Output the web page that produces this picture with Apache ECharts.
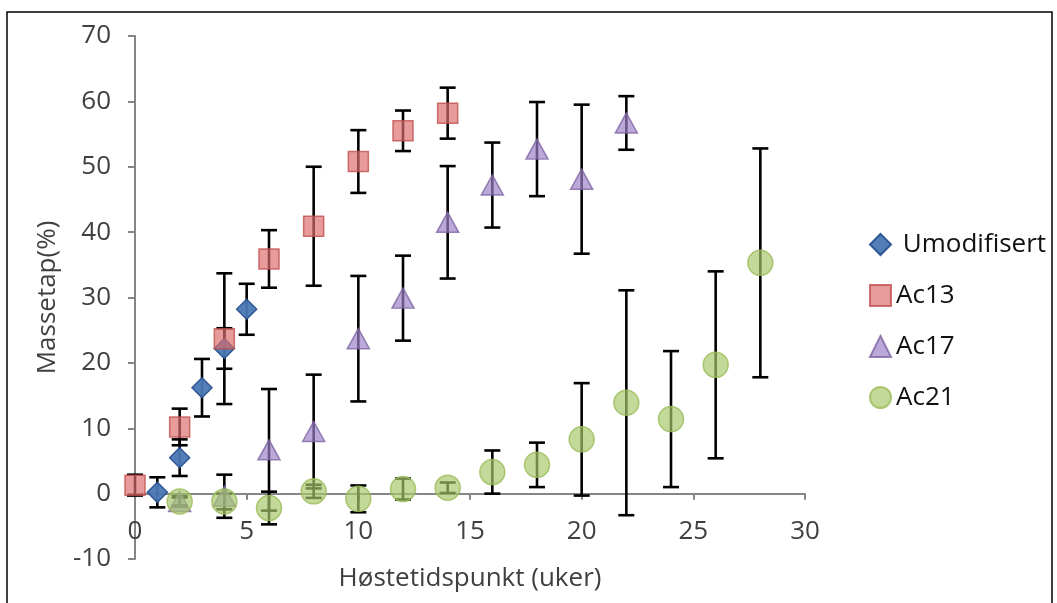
<!DOCTYPE html>
<html lang="no">
<head>
<meta charset="UTF-8">
<title>Massetap</title>
<style>
  html, body { margin: 0; padding: 0; background: #fff; }
  #chart { width: 1057px; height: 603px; }
</style>
</head>
<body>
<div id="chart"></div>
<script src="https://cdn.jsdelivr.net/npm/echarts@6/dist/echarts.min.js"></script>
<script>
// uker (x), massetap i % (y) og standardavvik (feil)
var umodWeeks = [1, 2, 3, 4, 5];
var umodVals  = [0.2, 5.5, 16.2, 22.2, 28.2];
var umodErr   = [2.3, 2.8, 4.4, 3.1, 3.9];

var ac13Weeks = [0, 2, 4, 6, 8, 10, 12, 14];
var ac13Vals  = [1.3, 10.2, 23.7, 35.9, 40.9, 50.8, 55.5, 58.2];
var ac13Err   = [1.6, 2.8, 10.0, 4.4, 9.1, 4.8, 3.1, 3.9];

var ac17Weeks = [2, 4, 6, 8, 10, 12, 14, 16, 18, 20, 22];
var ac17Vals  = [-1.2, -0.4, 6.7, 9.5, 23.7, 29.9, 41.5, 47.2, 52.7, 48.1, 56.7];
var ac17Err   = [0.6, 3.3, 9.3, 8.7, 9.6, 6.5, 8.6, 6.5, 7.2, 11.4, 4.1];

var ac21Weeks = [2, 4, 6, 8, 10, 12, 14, 16, 18, 20, 22, 24, 26, 28];
var ac21Vals  = [-1.2, -1.2, -2.2, 0.35, -0.8, 0.7, 0.9, 3.3, 4.4, 8.3, 13.9, 11.4, 19.7, 35.3];
var ac21Err   = [0.8, 1.2, 2.5, 1.0, 2.05, 1.6, 0.8, 3.3, 3.4, 8.6, 17.2, 10.4, 14.3, 17.5];

var FONT = 'Open Sans';
var FS = 26;
var TXT = '#404040';
var AXIS = '#868686';

function pts(xs, ys) {
  var res = [];
  for (var i = 0; i < xs.length; i++) res.push([xs[i], ys[i]]);
  return res;
}
function errPts(xs, ys, es) {
  var res = [];
  for (var i = 0; i < xs.length; i++) res.push([xs[i], ys[i] - es[i], ys[i] + es[i]]);
  return res;
}

function renderErr(params, api) {
  var lo = api.coord([api.value(0), api.value(1)]);
  var hi = api.coord([api.value(0), api.value(2)]);
  var w = 8;
  var st = { stroke: '#000', lineWidth: 2.6 };
  return {
    type: 'group',
    children: [
      { type: 'line', shape: { x1: hi[0], y1: hi[1], x2: lo[0], y2: lo[1] }, style: st },
      { type: 'line', shape: { x1: hi[0] - w, y1: hi[1], x2: hi[0] + w, y2: hi[1] }, style: st },
      { type: 'line', shape: { x1: lo[0] - w, y1: lo[1], x2: lo[0] + w, y2: lo[1] }, style: st }
    ]
  };
}

function errSeries(xs, ys, es, z) {
  return {
    type: 'custom',
    renderItem: renderErr,
    data: errPts(xs, ys, es),
    encode: { x: 0, y: [1, 2] },
    z: z,
    silent: true
  };
}

var chart = echarts.init(document.getElementById('chart'));

var option = {
  animation: false,
  graphic: [{
    type: 'rect',
    shape: { x: 7, y: 12, width: 1045, height: 600 },
    style: { fill: 'none', stroke: '#000', lineWidth: 1.5 },
    z: 100
  }],
  grid: { left: 135, right: 252, top: 36, bottom: 44, outerBoundsMode: 'none', containLabel: false },
  legend: {
    orient: 'vertical',
    left: 864,
    top: 226,
    itemGap: 24,
    itemWidth: 21,
    itemHeight: 21,
    textStyle: { fontFamily: FONT, fontSize: FS, lineHeight: 27, color: '#111' },
    data: [
      { name: 'Umodifisert', icon: 'diamond' },
      { name: 'Ac13', icon: 'rect' },
      { name: 'Ac17', icon: 'triangle' },
      { name: 'Ac21', icon: 'circle' }
    ],
    formatter: function (n) { return n === 'Umodifisert' ? ' ' + n : n; }
  },
  xAxis: [{
    // etiketter og tittel (ved bunnen av plottet)
    type: 'value',
    position: 'bottom',
    min: 0, max: 30, interval: 5,
    name: 'Høstetidspunkt (uker)',
    nameLocation: 'middle',
    nameGap: 7,
    nameTextStyle: { fontFamily: FONT, fontSize: FS, color: TXT },
    axisLine: { show: false, onZero: false },
    axisTick: { show: false },
    axisLabel: { margin: -40, fontFamily: FONT, fontSize: FS, color: TXT },
    splitLine: { show: false }
  }, {
    // selve aksen ved y = 0
    type: 'value',
    position: 'bottom',
    min: 0, max: 30, interval: 5,
    axisLine: { show: true, onZero: true, lineStyle: { color: AXIS, width: 2 } },
    axisTick: { show: true, length: 6, lineStyle: { color: AXIS, width: 2 } },
    axisLabel: { show: false },
    splitLine: { show: false }
  }],
  yAxis: {
    type: 'value',
    min: -10, max: 70, interval: 10,
    name: 'Massetap(%)',
    nameLocation: 'middle',
    nameGap: 74,
    nameRotate: 90,
    nameTextStyle: { fontFamily: FONT, fontSize: FS, color: TXT },
    axisLine: { show: true, onZero: false, lineStyle: { color: AXIS, width: 2 } },
    axisTick: { show: true, length: 7, lineStyle: { color: AXIS, width: 2 } },
    axisLabel: { margin: 24, fontFamily: FONT, fontSize: FS, color: TXT },
    splitLine: { show: false }
  },
  series: [
    errSeries(umodWeeks, umodVals, umodErr, 2),
    errSeries(ac13Weeks, ac13Vals, ac13Err, 2),
    errSeries(ac17Weeks, ac17Vals, ac17Err, 2),
    errSeries(ac21Weeks, ac21Vals, ac21Err, 2),
    {
      name: 'Umodifisert', type: 'scatter', symbol: 'diamond', symbolSize: 20,
      data: pts(umodWeeks, umodVals), z: 3,
      itemStyle: { color: '#4a78b5', borderColor: '#2a5290', borderWidth: 1.5, opacity: 0.95 }
    },
    {
      name: 'Ac13', type: 'scatter', symbol: 'rect', symbolSize: 20,
      data: pts(ac13Weeks, ac13Vals), z: 4,
      itemStyle: { color: 'rgba(220,110,108,0.85)', borderColor: '#c0504d', borderWidth: 1.5 }
    },
    {
      name: 'Ac17', type: 'scatter', symbol: 'triangle', symbolSize: [22, 20],
      data: pts(ac17Weeks, ac17Vals), z: 5,
      itemStyle: { color: 'rgba(155,130,200,0.85)', borderColor: '#8064a2', borderWidth: 1.5 }
    },
    {
      name: 'Ac21', type: 'scatter', symbol: 'circle', symbolSize: 25,
      data: pts(ac21Weeks, ac21Vals), z: 6,
      itemStyle: { color: 'rgba(165,200,105,0.85)', borderColor: '#9bbb59', borderWidth: 1.5 }
    }
  ]
};

chart.setOption(option);
</script>
</body>
</html>
